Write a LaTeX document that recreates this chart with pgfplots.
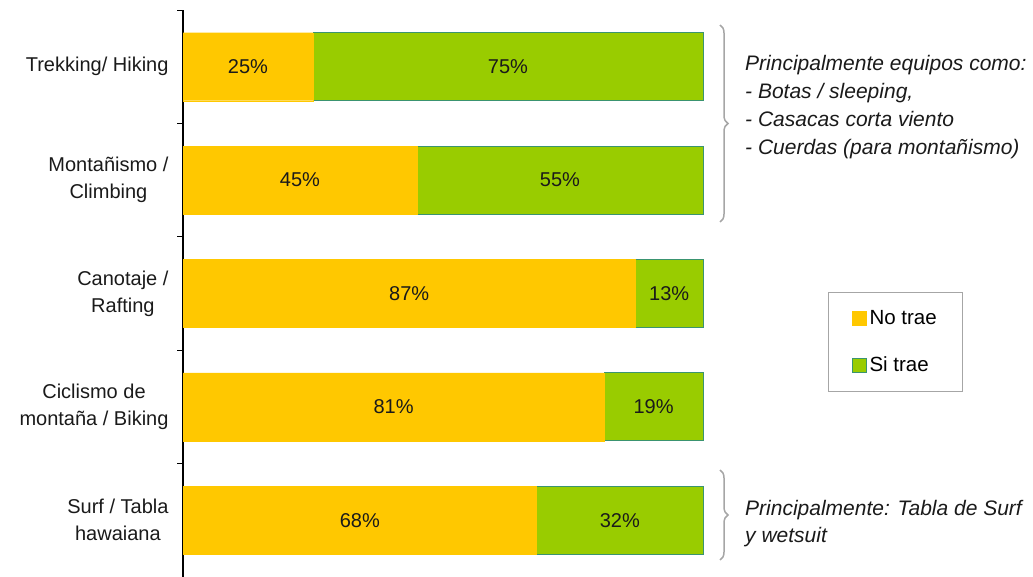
\documentclass[border=0pt]{standalone}
\usepackage{pgfplots}
\pgfplotsset{compat=1.18}
\usepackage{fontspec}
\setmainfont{Liberation Sans}
\usetikzlibrary{decorations.pathreplacing}
\definecolor{cyel}{HTML}{FFC800}
\definecolor{cgrn}{HTML}{99CC00}
\definecolor{cbrd}{HTML}{3A9470}
\definecolor{ctxt}{HTML}{1A1A1A}
\definecolor{cbrace}{HTML}{A6A6A6}
\begin{document}
\begin{tikzpicture}
\path[use as bounding box] (0,0) rectangle (1033bp,577bp);
\begin{axis}[
  at={(183bp,0bp)}, anchor=south west,
  scale only axis, width=520bp, height=567bp,
  xbar stacked, bar width=68bp,
  xmin=0, xmax=100, ymin=-0.5, ymax=4.5, y dir=reverse,
  axis x line=none, axis y line*=left,
  ytick={0,1,2,3,4},
  yticklabels={{Trekking/ Hiking},{Montañismo /\\Climbing},{Canotaje /\\Rafting},{Ciclismo de\\montaña / Biking},{Surf / Tabla\\hawaiana}},
  minor ytick={-0.5,0.5,1.5,2.5,3.5,4.5},
  major tick length=0pt, minor tick length=6bp, tick align=outside,
  minor tick style={black, line width=1bp},
  axis line style={black, line width=1.5bp},
  yticklabel style={align=center, font=\fontsize{20bp}{27bp}\selectfont, text=ctxt, xshift=-11bp},
  clip=false,
  visualization depends on={rawx \as \rawx},
  nodes near coords={\pgfmathprintnumber[assume math mode=true]{\rawx}\%},
  every node near coord/.append style={anchor=center, font=\fontsize{20bp}{24bp}\selectfont, text=ctxt},
  legend style={at={(1.2404,0.5026)}, anchor=north west, draw=cbrace, line width=1bp,
    font=\fontsize{20.5bp}{24bp}\selectfont, row sep=25bp, inner xsep=23bp, inner ysep=15bp,
    nodes={inner sep=3bp}},
  legend cell align=left,
  legend image code/.code={\path[#1, line width=1bp] (0bp,-7bp) rectangle (14bp,7bp);},
]
\addplot[fill=cyel, draw=cyel] coordinates {(25,0) (45,1) (87,2) (81,3) (68,4)};
\addlegendentry{No trae}
\addplot[fill=cgrn, draw=cbrd, line width=1bp] coordinates {(75,0) (55,1) (13,2) (19,3) (32,4)};
\addlegendentry{Si trae}
\end{axis}
\draw[cbrace, line width=1.5bp, decorate, decoration={brace, amplitude=8bp}] (720bp,552bp) -- (720bp,355bp);
\draw[cbrace, line width=1.5bp, decorate, decoration={brace, amplitude=8bp}] (720bp,107bp) -- (720bp,17bp);
\node[anchor=north west, inner sep=0pt, align=left, font=\fontsize{21bp}{28bp}\selectfont\itshape, text=ctxt] at (745bp,522bp) {Principalmente equipos como:\\- Botas / sleeping,\\- Casacas corta viento\\- Cuerdas (para montañismo)};
\node[anchor=north west, inner sep=0pt, align=left, font=\fontsize{21bp}{27bp}\selectfont\itshape, text=ctxt] at (745bp,77bp) {Principalmente: Tabla de Surf\\y wetsuit};
\end{tikzpicture}
\end{document}
